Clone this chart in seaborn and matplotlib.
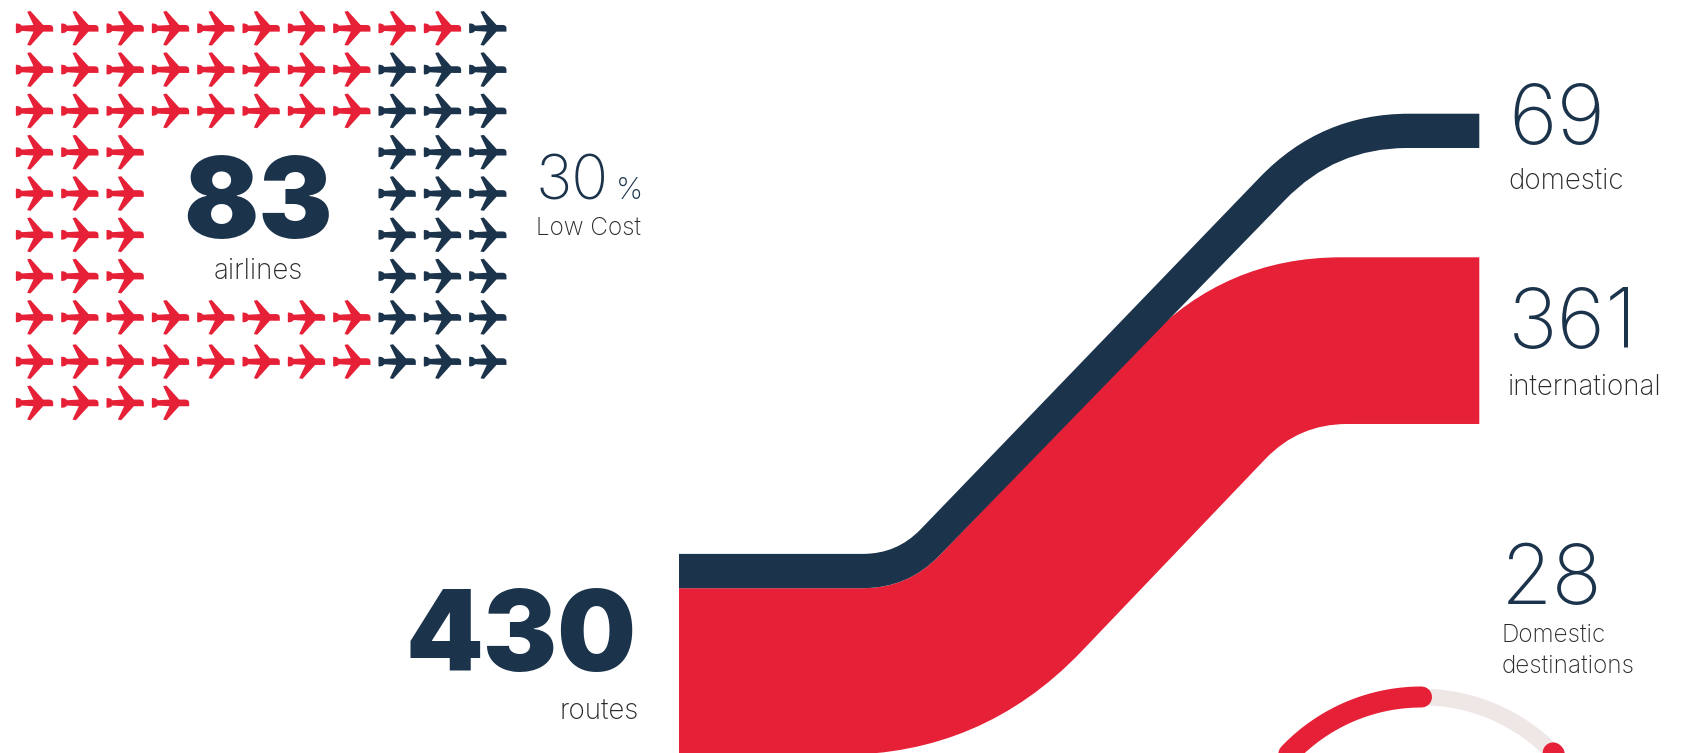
import numpy as np
import pandas as pd
import matplotlib
matplotlib.use("Agg")
import matplotlib.pyplot as plt
from matplotlib.path import Path
from matplotlib.patches import PathPatch
import seaborn as sns

# Airline counts per waffle row: (first column, red planes, navy planes)
row_numbers = [0, 1, 2, 3, 4, 5, 6, 7, 8, 9]
red_per_row = [10, 8, 8, 3, 3, 3, 3, 8, 8, 4]
navy_per_row = [1, 3, 3, 3, 3, 3, 3, 3, 3, 0]

# Route flows
route_labels = ["domestic", "international"]
route_values = [69, 361]
total_routes = 430

# Destination ring: red arcs as start and end angle in degrees
ring_red_start = [90, 44]
ring_red_end = [165, 15]

NAVY = "#1B334B"
RED = "#E62037"
TRACK = "#EEE7E6"
INK = "#2A2A2A"
W, H = 1703, 753

sns.set_theme(style="white")
plt.rcParams["font.family"] = ["Inter", "DejaVu Sans"]

fig = plt.figure(figsize=(W / 100, H / 100), dpi=100, facecolor="white")
ax = fig.add_axes([0, 0, 1, 1])
ax.set_xlim(0, W)
ax.set_ylim(H, 0)
ax.axis("off")

# Plane glyph pointing right, outlined clockwise from the nose
plane_pts = [
    (160, 85), (160, 75), (148, 75), (130, 75), (92, 33), (82, 35), (101, 75), (66, 77),
    (60, 72), (50, 70), (48, 72), (48, 98), (50, 100), (60, 98), (66, 93), (101, 95),
    (82, 135), (92, 137), (130, 95), (148, 95), (160, 95), (160, 85), (160, 85),
]
plane_codes = [Path.MOVETO, Path.CURVE3, Path.CURVE3] + [Path.LINETO] * 16 + [Path.CURVE3, Path.CURVE3, Path.LINETO, Path.CLOSEPOLY]
plane_arr = np.array(plane_pts, float)
plane_arr[:, 0] -= 104
plane_arr[:, 1] = 85 - plane_arr[:, 1]
plane = Path(plane_arr, plane_codes)

# Waffle of planes: the central hole sits in columns 3 to 7 of the middle rows
records = []
for r, nr, nn in zip(row_numbers, red_per_row, navy_per_row):
    for c in range(nr):
        records.append((c, r, "Full service"))
    start = 11 - nn
    for c in range(start, 11):
        records.append((c, r, "Low cost"))
planes = pd.DataFrame(records, columns=["col", "row", "kind"])
planes["row_pos"] = planes["row"] + (planes["row"] >= 8) * 0.07

pitch_x, pitch_y = 45.33, 41.3
x0, y0 = 34.5 - pitch_x / 2, 28.3 - pitch_y / 2
ax_w = fig.add_axes([x0 / W, 1 - (y0 + 11 * pitch_y) / H, 11 * pitch_x / W, 11 * pitch_y / H])
ax_w.set_xlim(-0.5, 10.5)
ax_w.set_ylim(10.5, -0.5)
ax_w.axis("off")
sns.scatterplot(
    data=planes, x="col", y="row_pos", hue="kind", hue_order=["Full service", "Low cost"],
    palette=[RED, NAVY], marker=plane, s=722, linewidth=0, legend=False, ax=ax_w, clip_on=False,
)
ax_w.set_xlabel("")
ax_w.set_ylabel("")


def edge(xa, xb, ya, yb, corner_a, tan_a, corner_b, tan_b, slope=1.04):
    """One ribbon side: flat, rounded bend, diagonal, rounded bend, flat."""
    ux, uy = 1 / np.hypot(1, slope), -slope / np.hypot(1, slope)
    verts = [(xa, ya), (corner_a - tan_a, ya), (corner_a, ya),
             (corner_a + ux * tan_a, ya + uy * tan_a),
             (corner_b - ux * tan_b, yb - uy * tan_b), (corner_b, yb), (corner_b + tan_b, yb), (xb, yb)]
    codes = [Path.LINETO, Path.LINETO, Path.CURVE3, Path.CURVE3, Path.LINETO, Path.CURVE3, Path.CURVE3, Path.LINETO]
    return verts, codes


def ribbon(value, y_left, y_right, top_geom, bottom_geom, color):
    """Flow band whose width grows with its number of routes."""
    width = 3.0 + 0.4534 * value
    xl, xr = 679.0, 1479.3
    tv, tc = edge(xl, xr, y_left, y_right, *top_geom)
    bv, bc = edge(xl, xr, y_left + width, y_right + width, *bottom_geom)
    verts = tv + bv[::-1] + [tv[0]]
    codes = [Path.MOVETO] + tc[1:] + [Path.LINETO] + bc[::-1][:-1] + [Path.CLOSEPOLY]
    # reversed quadratic segments keep their control point in the middle, so the codes stay valid
    ax.add_patch(PathPatch(Path(verts, codes), facecolor=color, edgecolor="none", lw=0))


ribbon(route_values[1], 588.2, 257.3, (908, 45, 1226, 115), (982, 142, 1299, 48), RED)
ribbon(route_values[0], 553.9, 113.7, (897, 34, 1321, 88), (908, 45, 1335, 72), NAVY)

# Destination ring, cut off by the bottom of the figure
cx, cy, rad = 1421.5, 880.0, 183.0
t = np.radians(np.linspace(0, 180, 200))
ax.plot(cx + rad * np.cos(t), cy - rad * np.sin(t), color=TRACK, lw=16.5 * 0.72, solid_capstyle="butt", zorder=2)
for a, b in zip(ring_red_start, ring_red_end):
    t = np.radians(np.linspace(a, b, 80))
    ax.plot(cx + rad * np.cos(t), cy - rad * np.sin(t), color=RED, lw=21 * 0.72, solid_capstyle="round", zorder=3)

# Headline figures
heavy = dict(color=NAVY, fontweight="black", fontsize=80, va="baseline")
ax.text(258, 238, f"{len(planes)}", ha="center", **heavy)
ax.text(637, 671, f"{total_routes}", ha="right", **heavy)

# Secondary figures
light = dict(color=NAVY, fontweight="light", va="baseline", ha="left")
ax.text(535, 199, "30", fontsize=44, **light)
ax.text(616, 199, "%", fontsize=22, **light)
ax.text(1508, 144, f"{route_values[0]}", fontsize=60, **light)
ax.text(1508, 348, f"{route_values[1]}", fontsize=60, **light)
ax.text(1501, 604, "28", fontsize=60, **light)

# Captions
cap = dict(color=INK, fontweight="light", fontsize=20, va="baseline")
ax.text(258, 279, "airlines", ha="center", **cap)
ax.text(536, 235, "Low Cost", ha="left", **{**cap, "fontsize": 17.5})
ax.text(639, 720, "routes", ha="right", **cap)
ax.text(1508, 189, route_labels[0], ha="left", **cap)
ax.text(1508, 395, route_labels[1], ha="left", **cap)
ax.text(1502, 642, "Domestic", ha="left", **{**cap, "fontsize": 17.5})
ax.text(1502, 673, "destinations", ha="left", **{**cap, "fontsize": 17.5})

fig.savefig("out.png", dpi=100, facecolor="white")
